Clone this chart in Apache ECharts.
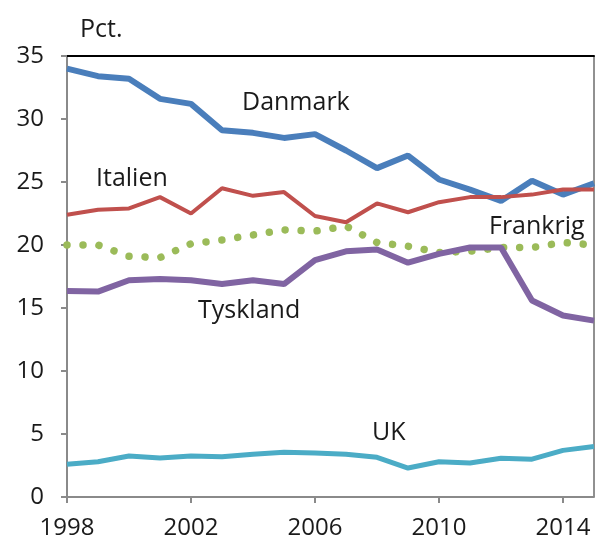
<!DOCTYPE html>
<html>
<head>
<meta charset="utf-8">
<script src="https://cdn.jsdelivr.net/npm/echarts@6/dist/echarts.min.js"></script>
<style>
html,body{margin:0;padding:0;background:#fff;}
#chart{width:595px;height:541px;}
</style>
</head>
<body>
<div id="chart"></div>
<script>
var years = ['1998','1999','2000','2001','2002','2003','2004','2005','2006','2007','2008','2009','2010','2011','2012','2013','2014','2015'];
var danmark  = [34.0,33.4,33.2,31.6,31.2,29.1,28.9,28.5,28.8,27.5,26.1,27.1,25.2,24.4,23.5,25.1,24.0,24.9];
var italien  = [22.4,22.8,22.9,23.8,22.5,24.5,23.9,24.2,22.3,21.8,23.3,22.6,23.4,23.8,23.8,24.0,24.4,24.4];
var frankrig = [20.0,20.0,19.1,19.0,20.1,20.4,20.8,21.2,21.1,21.5,20.2,19.9,19.4,19.5,19.8,19.8,20.2,20.0];
var tyskland = [16.35,16.3,17.2,17.3,17.2,16.9,17.2,16.9,18.8,19.5,19.65,18.6,19.3,19.8,19.8,15.6,14.4,14.0];
var uk       = [2.6,2.8,3.25,3.1,3.25,3.2,3.4,3.55,3.5,3.4,3.15,2.3,2.8,2.7,3.07,3.0,3.7,4.0];
var yTicks = [0,5,10,15,20,25,30,35];

var FONT = 'Open Sans';
var chart = echarts.init(document.getElementById('chart'), null, {renderer:'canvas'});
function txt(t, x, y){
  return {type:'text', left:x, top:y, style:{text:t, font:'25px "'+FONT+'"', fill:'#1a1a1a'}};
}
chart.setOption({
  animation:false,
  grid:{left:67, right:1, top:56, bottom:44, show:true, borderColor:'#222', borderWidth:1},
  xAxis:[{
    type:'category', data:years, boundaryGap:false,
    axisLine:{lineStyle:{color:'#8a8a8a', width:2}},
    axisTick:{show:true, interval:3, length:6, lineStyle:{color:'#8a8a8a', width:2}},
    axisLabel:{interval:3, margin:19, color:'#1a1a1a', fontSize:24, fontFamily:FONT},
    splitLine:{show:false}
  },{
    type:'category', data:years, boundaryGap:false, position:'top',
    axisLine:{lineStyle:{color:'#000', width:2}},
    axisTick:{show:false}, axisLabel:{show:false}, splitLine:{show:false}
  }],
  yAxis:{
    type:'value', min:0, max:35, interval:5,
    axisLine:{show:true, lineStyle:{color:'#8a8a8a', width:2}},
    axisTick:{show:true, length:6, lineStyle:{color:'#8a8a8a', width:2}},
    axisLabel:{margin:23, color:'#1a1a1a', fontSize:24, fontFamily:FONT,
      formatter:function(v){return yTicks.indexOf(v)>=0 ? String(v) : '';}},
    splitLine:{show:false}
  },
  series:[
    {name:'Danmark', type:'line', data:danmark, showSymbol:false, lineStyle:{color:'#4a7ebb', width:6}},
    {name:'Frankrig', type:'line', data:frankrig, showSymbol:false, lineStyle:{color:'#9bbb59', width:7.5, type:[0.01,16], cap:'round'}},
    {name:'Italien', type:'line', data:italien, showSymbol:false, lineStyle:{color:'#c0504d', width:4}},
    {name:'Tyskland', type:'line', data:tyskland, showSymbol:false, lineStyle:{color:'#8064a2', width:6}},
    {name:'UK', type:'line', data:uk, showSymbol:false, lineStyle:{color:'#4bacc6', width:5}}
  ],
  graphic:[
    txt('Pct.', 80, 17),
    txt('Danmark', 242, 90),
    txt('Italien', 96, 166),
    txt('Frankrig', 489, 214),
    txt('Tyskland', 198, 298),
    txt('UK', 372, 420)
  ]
});
</script>
</body>
</html>
